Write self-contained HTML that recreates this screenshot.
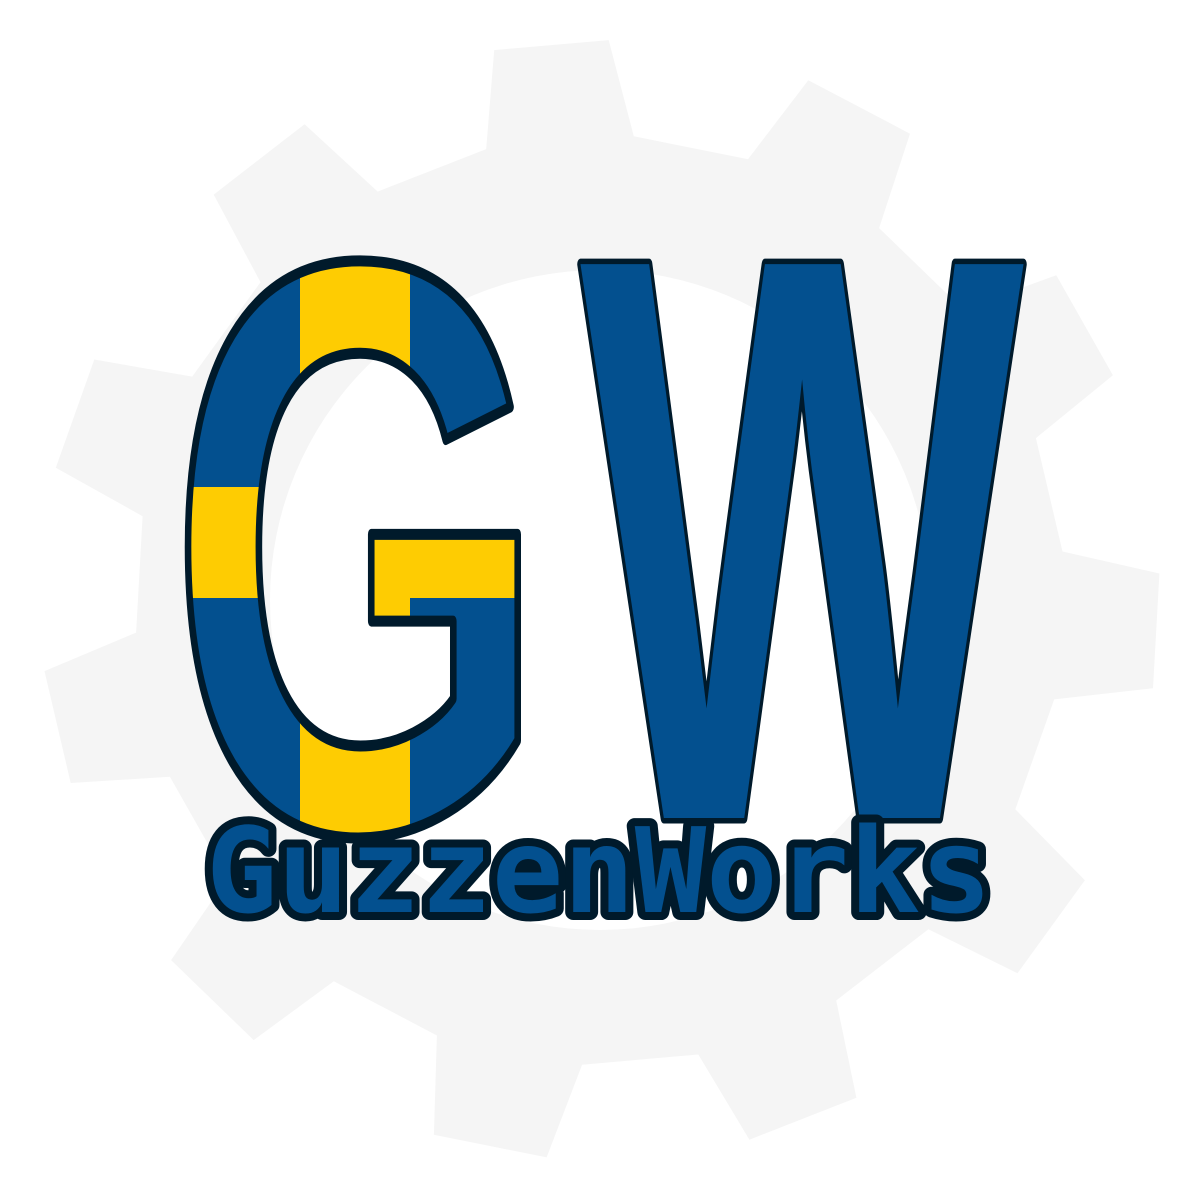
<!DOCTYPE html>
<html><head><meta charset="utf-8"><style>
html,body{margin:0;padding:0;background:#fff;}
svg{display:block;}
</style></head><body>
<svg width="1200" height="1200" viewBox="0 0 1200 1200">
  <defs>
    <clipPath id="gclip">
      <text x="168" y="830" font-family="Liberation Sans, sans-serif" font-weight="bold" font-size="815" textLength="380" lengthAdjust="spacingAndGlyphs">G</text>
    </clipPath>
  </defs>
  <path id="gear" fill="#f5f5f5" fill-rule="evenodd"/>
  <g clip-path="url(#gclip)">
    <rect x="150" y="220" width="420" height="640" fill="#03508f"/>
    <rect x="300" y="220" width="110" height="640" fill="#fecc02"/>
    <rect x="150" y="487" width="420" height="111" fill="#fecc02"/>
  </g>
  <text x="168" y="830" font-family="Liberation Sans, sans-serif" font-weight="bold" font-size="815" textLength="380" lengthAdjust="spacingAndGlyphs" fill="none" stroke="#001a2b" stroke-width="11" stroke-linejoin="round">G</text>
  <text x="580" y="818" font-family="Liberation Sans, sans-serif" font-weight="bold" font-size="805" textLength="444" lengthAdjust="spacingAndGlyphs" fill="#03508f" stroke="#001a2b" stroke-width="11" stroke-linejoin="round" paint-order="stroke">W</text>
  <text x="206" y="912" font-family="DejaVu Sans Mono, Liberation Mono, monospace" font-weight="bold" font-size="118" textLength="786" lengthAdjust="spacingAndGlyphs" fill="#03508f" stroke="#001a2b" stroke-width="16" stroke-linejoin="round" paint-order="stroke">GuzzenWorks</text>
</svg>
<script>
const teeth = 11;
const cx = 600, cy = 600, rOut = 560, rIn = 465, hole = 330;
let d = '';
for (let i = 0; i < teeth; i++) {
  const base = (-95 + i * 360 / teeth) * Math.PI / 180;
  const step = 2 * Math.PI / teeth;
  const pts = [
    [base - step * 0.28, rIn], [base - step * 0.18, rOut],
    [base + step * 0.18, rOut], [base + step * 0.28, rIn]
  ];
  pts.forEach((p, j) => {
    const x = cx + p[1] * Math.cos(p[0]), y = cy + p[1] * Math.sin(p[0]);
    d += (i === 0 && j === 0 ? 'M' : 'L') + x.toFixed(1) + ',' + y.toFixed(1) + ' ';
  });
}
d += 'Z M' + (cx + hole) + ',' + cy + ' A' + hole + ',' + hole + ' 0 1,0 ' + (cx - hole) + ',' + cy + ' A' + hole + ',' + hole + ' 0 1,0 ' + (cx + hole) + ',' + cy + ' Z';
document.getElementById('gear').setAttribute('d', d);
</script>
</body></html>
